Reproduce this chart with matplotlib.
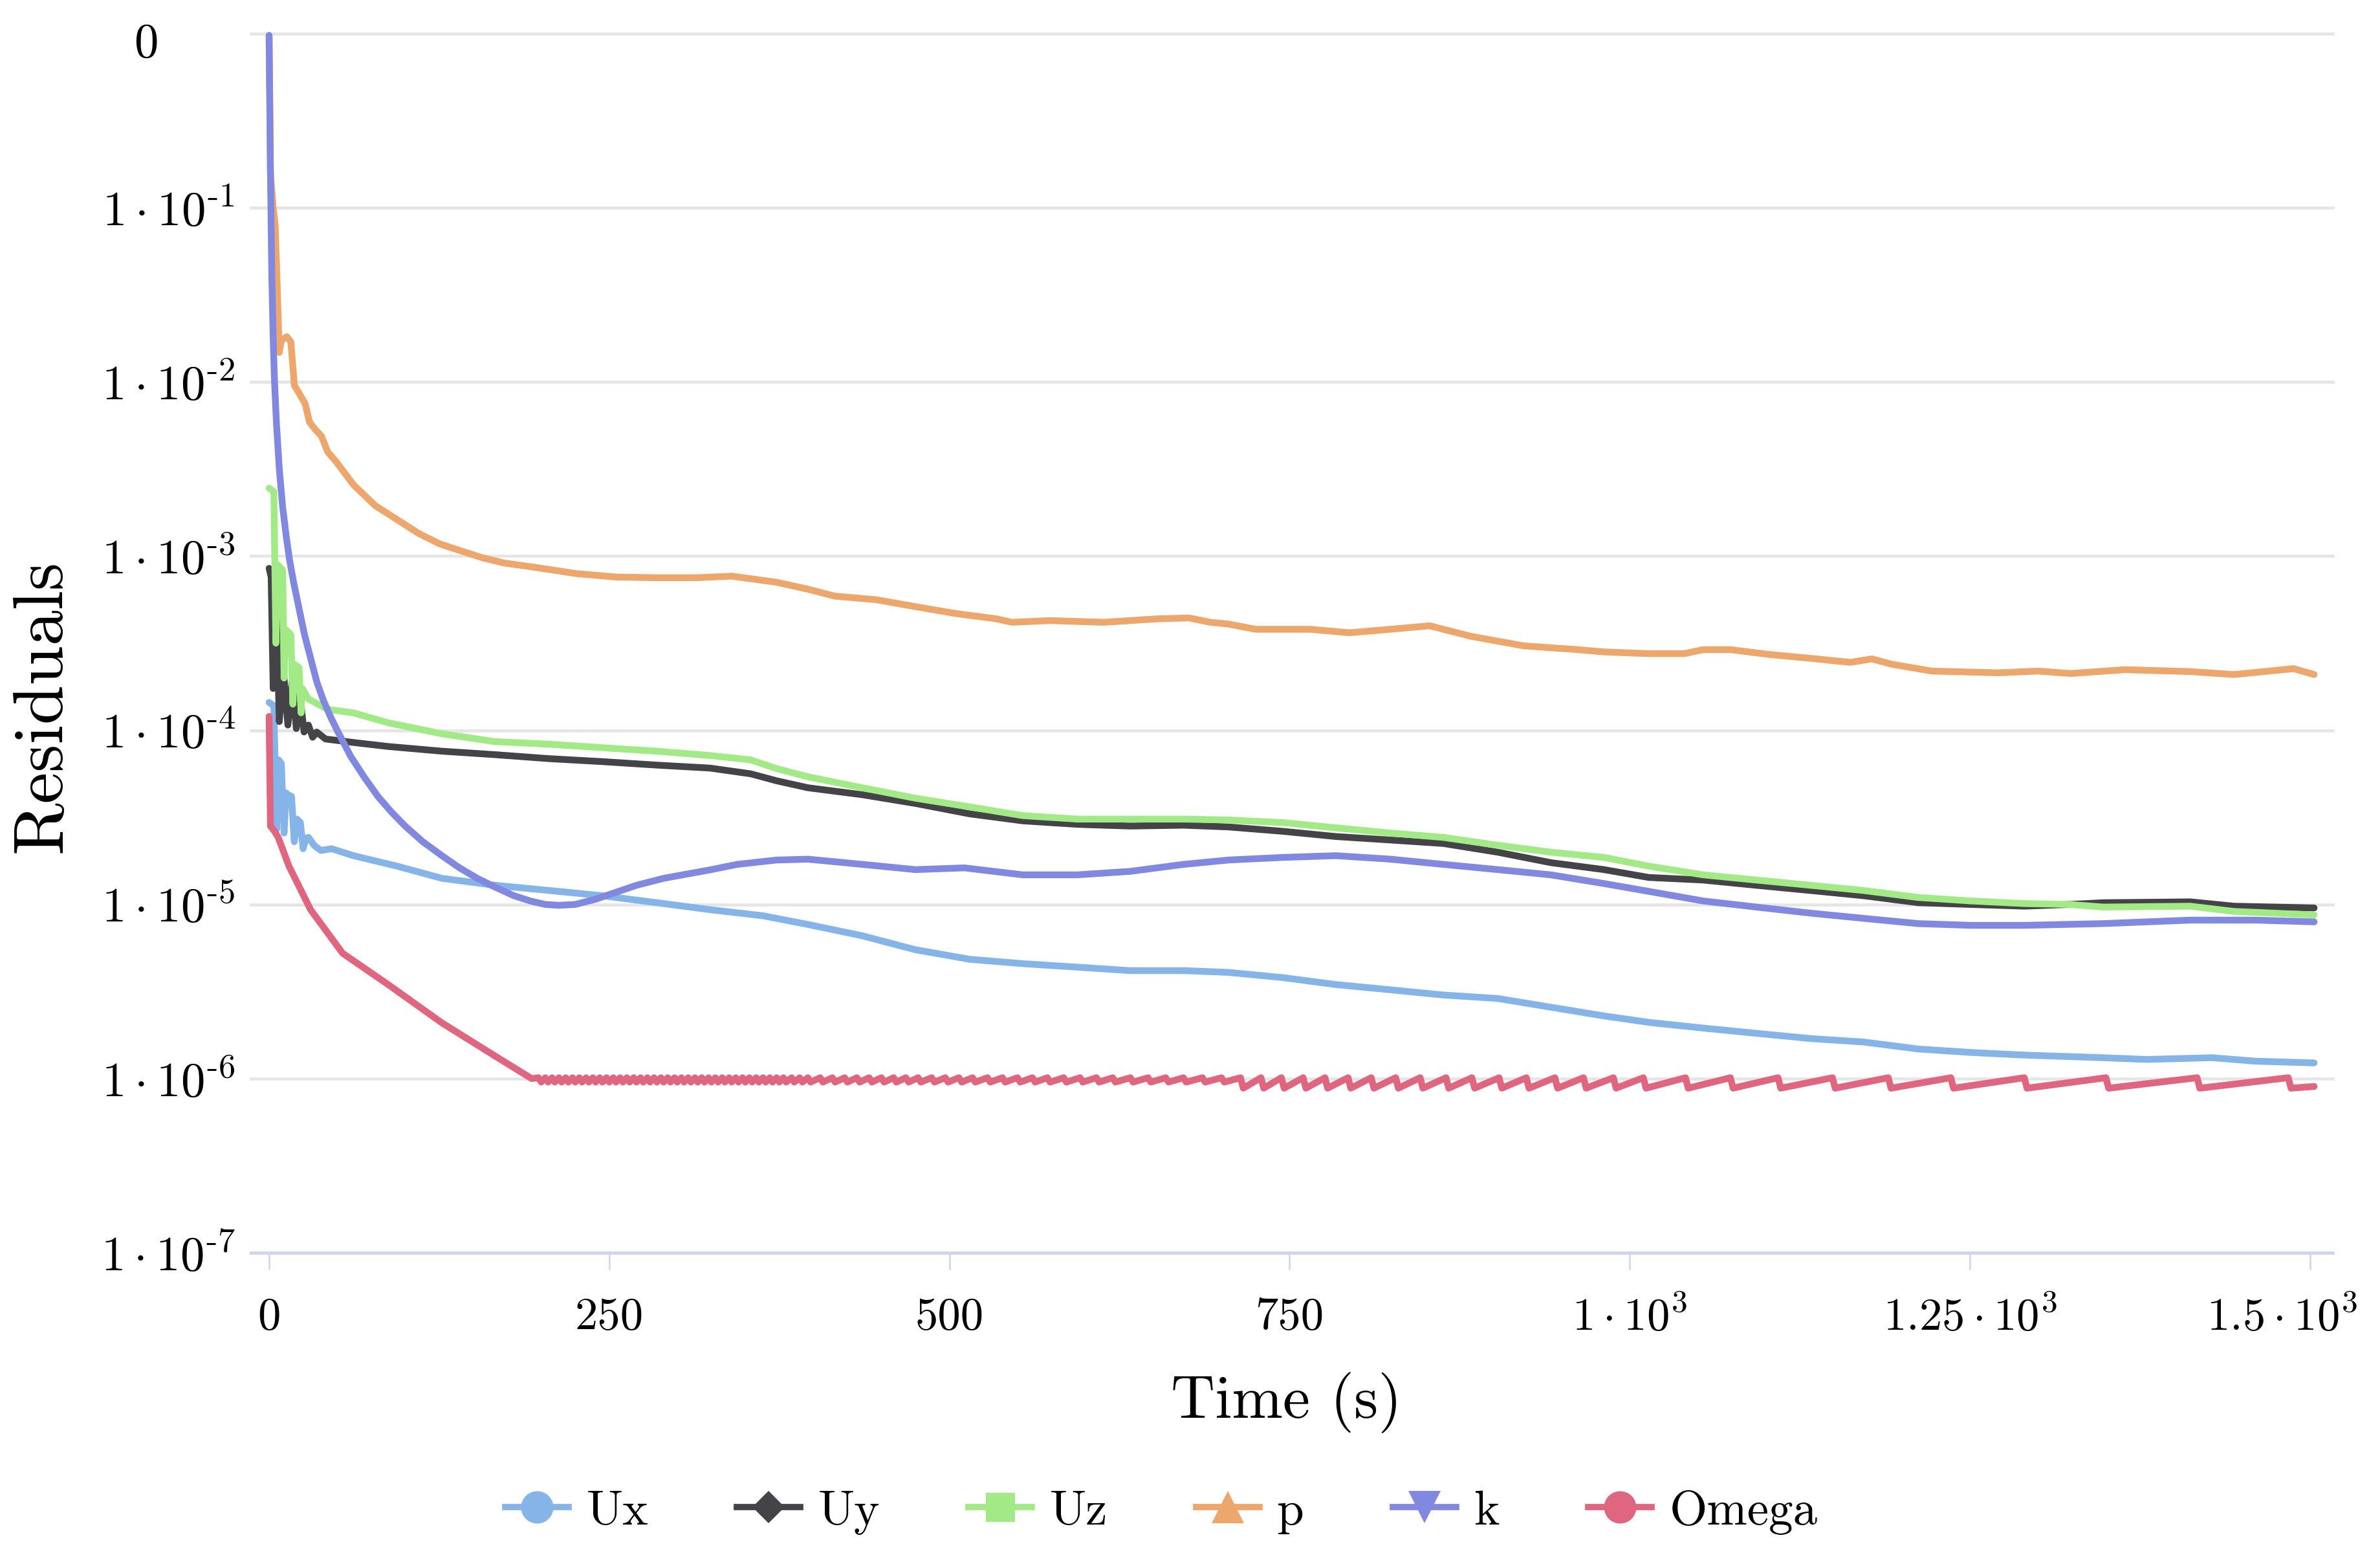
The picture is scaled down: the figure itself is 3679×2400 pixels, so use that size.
import matplotlib
matplotlib.use("Agg")
import matplotlib.pyplot as plt
from matplotlib.lines import Line2D
from matplotlib.ticker import NullLocator
import numpy as np

plt.rcParams['font.family'] = 'serif'
plt.rcParams['font.serif'] = ['cmr10']
plt.rcParams['mathtext.fontset'] = 'cm'
plt.rcParams['axes.unicode_minus'] = False

# residuals, as log10 exponents against time (s)
ux_t = [0, 3.5, 5.5, 7, 9, 11, 12.5, 14, 16.5, 18.5, 20.5, 23, 25, 27, 29, 33, 38, 46, 62, 94,
        127, 166, 206, 245, 285, 324, 363, 396, 436, 475, 515, 554, 594, 633, 672, 705, 745,
        784, 824, 863, 903, 942, 981, 1014, 1054, 1093, 1133, 1172, 1212, 1251, 1290, 1348,
        1380, 1428, 1460, 1503]
ux_log = [-3.84, -3.86, -4.57, -4.17, -4.19, -4.59, -4.36, -4.37, -4.38, -4.64, -4.51, -4.53,
          -4.68, -4.62, -4.615, -4.66, -4.69, -4.68, -4.72, -4.78, -4.85, -4.89, -4.92, -4.95,
          -4.99, -5.03, -5.065, -5.115, -5.18, -5.26, -5.315, -5.34, -5.36, -5.38, -5.38, -5.39,
          -5.42, -5.46, -5.49, -5.52, -5.54, -5.59, -5.64, -5.677, -5.71, -5.74, -5.77, -5.79,
          -5.83, -5.85, -5.865, -5.88, -5.89, -5.88, -5.90, -5.91]

uy_t = [0, 1.5, 3, 5, 7.5, 10.5, 13.8, 17, 20, 23.3, 25.7, 28.9, 32, 35, 41.5, 62, 87.5, 127,
        166, 206, 245, 285, 324, 354, 373, 396, 436, 475, 515, 554, 594, 633, 672, 705, 745,
        784, 824, 863, 903, 942, 981, 1014, 1054, 1093, 1133, 1172, 1212, 1251, 1290, 1323,
        1348, 1412, 1444, 1503]
uy_log = [-3.07, -3.12, -3.76, -3.21, -3.95, -3.65, -3.97, -3.72, -3.99, -3.84, -4.01, -3.97,
          -4.04, -4.01, -4.05, -4.07, -4.093, -4.12, -4.14, -4.163, -4.18, -4.20, -4.217, -4.25,
          -4.29, -4.33, -4.37, -4.42, -4.48, -4.52, -4.54, -4.55, -4.545, -4.555, -4.58, -4.61,
          -4.63, -4.65, -4.70, -4.76, -4.80, -4.845, -4.86, -4.89, -4.92, -4.95, -4.99, -5.0,
          -5.01, -5.0, -4.99, -4.985, -5.01, -5.02]

uz_t = [0, 3.5, 5, 6.5, 10, 11, 12, 16, 17.5, 18.5, 22, 23.5, 24.5, 28.9, 33.6, 43, 62, 87.5,
        127, 166, 206, 245, 285, 324, 354, 373, 396, 436, 475, 515, 554, 594, 633, 672, 705,
        745, 784, 824, 863, 903, 942, 981, 1014, 1054, 1093, 1133, 1172, 1212, 1251, 1290,
        1323, 1348, 1412, 1444, 1503]
uz_log = [-2.61, -2.63, -3.5, -3.05, -3.08, -3.7, -3.42, -3.45, -3.85, -3.62, -3.64, -3.9,
          -3.76, -3.82, -3.84, -3.88, -3.90, -3.957, -4.02, -4.065, -4.08, -4.10, -4.12, -4.145,
          -4.17, -4.22, -4.267, -4.33, -4.39, -4.44, -4.49, -4.51, -4.51, -4.51, -4.515, -4.53,
          -4.56, -4.59, -4.615, -4.66, -4.70, -4.73, -4.78, -4.83, -4.86, -4.89, -4.92, -4.96,
          -4.98, -4.995, -5.0, -5.015, -5.01, -5.04, -5.06]

p_t = [0, 1, 3, 4.5, 6, 7.5, 9, 13, 16, 18.6, 21.7, 26.5, 29.7, 33.6, 38.4, 43, 49.5, 62, 78,
       94, 110, 125.5, 141, 157, 173, 196, 225.5, 255, 285, 314, 340, 373, 396, 416, 446, 475,
       505, 534.5, 546, 574, 613, 653, 676, 692, 705, 725, 765, 794, 824, 853, 883, 922, 962,
       981, 1014, 1040, 1054, 1074, 1103, 1133, 1162, 1178, 1192, 1222, 1271, 1300, 1324, 1364,
       1412, 1444, 1488, 1503]
p_log = [-0.01, -0.8, -1.0, -1.1, -1.45, -1.83, -1.76, -1.74, -1.77, -2.02, -2.06, -2.125,
         -2.23, -2.27, -2.31, -2.40, -2.46, -2.59, -2.71, -2.79, -2.87, -2.93, -2.97, -3.01,
         -3.04, -3.065, -3.10, -3.12, -3.124, -3.124, -3.115, -3.15, -3.19, -3.23, -3.25, -3.29,
         -3.33, -3.36, -3.38, -3.37, -3.38, -3.36, -3.355, -3.38, -3.39, -3.42, -3.42, -3.44,
         -3.42, -3.40, -3.46, -3.515, -3.537, -3.55, -3.56, -3.56, -3.537, -3.537, -3.565,
         -3.587, -3.61, -3.59, -3.62, -3.66, -3.67, -3.66, -3.674, -3.652, -3.663, -3.68,
         -3.646, -3.68]

k_t = [0, 0.5, 1, 1.5, 2, 3, 4, 5.5, 7.5, 10, 12.5, 15, 18, 22, 26, 30, 35, 40, 45, 50, 60, 70,
       80, 90, 100, 113, 127, 140, 153, 166, 180, 192, 203, 213, 225, 240, 255, 270, 290, 304,
       325, 344, 373, 396, 436, 475, 511, 554, 594, 633, 672, 705, 745, 784, 824, 863, 903, 942,
       981, 1014, 1054, 1093, 1133, 1172, 1212, 1251, 1290, 1348, 1412, 1460, 1503]
k_log = [-0.01, -0.4, -0.8, -1.1, -1.4, -1.75, -2.0, -2.25, -2.5, -2.72, -2.88, -3.02, -3.15,
         -3.3, -3.45, -3.57, -3.72, -3.83, -3.92, -4.0, -4.15, -4.27, -4.38, -4.47, -4.55, -4.64,
         -4.72, -4.79, -4.85, -4.90, -4.95, -4.98, -5.0, -5.005, -5.0, -4.97, -4.93, -4.89,
         -4.85, -4.83, -4.80, -4.77, -4.745, -4.74, -4.77, -4.80, -4.79, -4.83, -4.83, -4.81,
         -4.77, -4.745, -4.73, -4.72, -4.74, -4.77, -4.80, -4.83, -4.88, -4.925, -4.98, -5.015,
         -5.05, -5.08, -5.11, -5.12, -5.12, -5.11, -5.09, -5.09, -5.10]

omega_head_t = [0, 1, 4, 6.7, 14.6, 30.5, 54, 87.5, 127, 166, 193]
omega_head_log = [-3.92, -4.55, -4.58, -4.615, -4.78, -5.03, -5.28, -5.46, -5.68, -5.87, -6.0]
# times where the Omega residual drops back (small ripple, then a widening sawtooth)
omega_ripple_t = [198, 203, 208, 213, 218, 223, 228, 233, 238, 243, 248, 253, 258, 263, 268,
                  273, 278, 283, 288, 293, 298, 303, 308, 313, 318, 323, 328, 333, 338, 343,
                  348, 353, 358, 363, 368, 373, 378, 384, 390, 396, 405, 414, 423, 432, 441,
                  450, 459, 468, 477, 487, 497, 507, 517, 528, 539, 550, 561, 572, 584, 596,
                  608, 620, 633, 646, 659, 672, 686, 700]
omega_saw_t = [714, 729, 744, 760, 776, 793, 810, 828, 846, 865, 884, 904, 924, 945, 966, 988,
               1010, 1041, 1074, 1109, 1149, 1190, 1236, 1290, 1350, 1417, 1484]
omega_peak = -5.995
omega_ripple_drop = 0.025
omega_saw_drop = 0.06
omega_end = (1503, -6.045)

om_t = list(omega_head_t)
om_log = list(omega_head_log)
for teeth, drop in ((omega_ripple_t, omega_ripple_drop), (omega_saw_t, omega_saw_drop)):
    for tt in teeth:
        om_t += [tt, tt + 2]
        om_log += [omega_peak, omega_peak - drop]
om_t.append(omega_end[0])
om_log.append(omega_end[1])

series = [
    ("Ux", ux_t, ux_log, '#84b4e8', 'o', 1.0),
    ("Uy", uy_t, uy_log, '#434348', 'D', 0.72),
    ("Uz", uz_t, uz_log, '#a2ea86', 's', 0.9),
    ("p", p_t, p_log, '#eda66b', '^', 1.0),
    ("k", k_t, k_log, '#8188e0', 'v', 1.0),
    ("Omega", om_t, om_log, '#e0667f', 'o', 1.0),
]

fig = plt.figure(figsize=(36.79, 24), dpi=100)
ax = fig.add_axes([0.10546, 0.19333, 0.87469, 0.785])

handles = []
for name, t, lg, col, mk, msf in series:
    ax.plot(t, 10 ** np.array(lg), color=col, lw=7.5, solid_capstyle='round',
            solid_joinstyle='round', clip_on=False)
    handles.append(Line2D([], [], color=col, lw=7, marker=mk, markersize=36 * msf,
                          markeredgewidth=0, label=name))

ax.set_yscale('log')
ax.set_ylim(1e-7, 1)
ax.set_xlim(-13.3, 1516.7)

yticks = [1e-7, 1e-6, 1e-5, 1e-4, 1e-3, 1e-2, 1e-1, 1]
ylabels = [r'$1 \cdot 10^{\text{-}7}$', r'$1 \cdot 10^{\text{-}6}$', r'$1 \cdot 10^{\text{-}5}$',
           r'$1 \cdot 10^{\text{-}4}$', r'$1 \cdot 10^{\text{-}3}$', r'$1 \cdot 10^{\text{-}2}$',
           r'$1 \cdot 10^{\text{-}1}$', '0']
xticks = [0, 250, 500, 750, 1000, 1250, 1500]
xlabels = ['0', '250', '500', '750', r'$1 \cdot 10^{3}$', r'$1.25 \cdot 10^{3}$',
           r'$1.5 \cdot 10^{3}$']

ax.set_yticks(yticks)
ax.set_yticklabels(ylabels[:-1] + [''])
ax.yaxis.set_minor_locator(NullLocator())
ax.set_xticks(xticks)
ax.set_xticklabels(xlabels[:-1] + [''])

ax.tick_params(axis='y', length=0, pad=92, labelsize=54)
for lab in ax.get_yticklabels():
    lab.set_horizontalalignment('center')
ax.tick_params(axis='x', length=19, width=1.8, color='#ccd6eb', pad=30, labelsize=51)

# edge labels nudged inside the plot frame, as in the original
ax.annotate(xlabels[-1], xy=(xticks[-1], 0), xycoords=('data', 'axes fraction'),
            xytext=(53, -49), textcoords='offset points', ha='right', va='top', fontsize=51)
ax.annotate(ylabels[-1], xy=(0, yticks[-1]), xycoords=('axes fraction', 'data'),
            xytext=(-117, -7), textcoords='offset points', ha='center',
            va='center_baseline', fontsize=54)

ax.yaxis.grid(True, color='#e6e6e6', lw=3.4)
for gl in ax.yaxis.get_gridlines():
    gl.set_clip_on(False)
ax.set_axisbelow(True)

for s in ['left', 'right', 'top']:
    ax.spines[s].set_visible(False)
ax.spines['bottom'].set_color('#ccd6eb')
ax.spines['bottom'].set_linewidth(3.4)

fig.text(0.018, 0.5454, 'Residuals', rotation=90, ha='center', va='center', fontsize=79)
fig.text(0.5405, 0.0968, 'Time (s)', ha='center', va='center', fontsize=68)

fig.legend(handles=handles, loc='center', bbox_to_anchor=(0.488, 0.0262), ncol=6,
           frameon=False, fontsize=54, handlelength=1.3, handletextpad=0.37,
           columnspacing=1.83)

fig.savefig('out.png', dpi=100)
